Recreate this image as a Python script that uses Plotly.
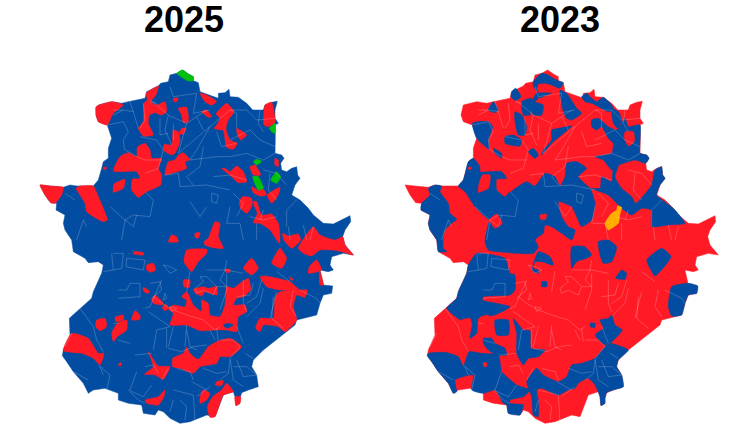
import plotly.graph_objects as go
from plotly.subplots import make_subplots

# coordinates, map units (3 per pixel)
# lists ending in _S are measured from y=540 (south half of the region)
YEARS = ["2025", "2023"]
PP = "#024da1"
PSOE = "#ff1a26"
OTHER = "#00bf0d"
LOCAL = "#ffae00"
BORDER = "rgba(255,255,255,0.2)"

OUTLINE = [(440,40),(458,30),(475,42),(490,50),(490,62),(505,68),(510,95),(540,105),(565,115),(565,100),(585,98),
           (597,88),(600,110),(625,112),(650,130),(668,150),(700,150),(705,135),(725,127),(742,124),(735,150),(735,175),
           (745,190),(735,195),(736,230),(735,280),(755,285),(762,295),(752,310),(755,330),(770,335),(785,325),(800,320),
           (803,345),(810,355),(795,375),(785,405),(810,420),(835,445),(850,465),(880,490),(910,492),(950,470),(960,467),
           (962,485),(945,510),(938,530),(945,555),(970,585),(940,580),(905,590),(900,615),(910,630),(895,635),(870,630),
           (880,675),(908,678),(905,700),(880,705),(870,730),(860,765),(800,780),(795,795),(770,815),(755,825),(700,870),
           (670,900),(665,920),(680,945),(685,980),(655,990),(635,998),(630,1015),(630,1030),(618,1037),(615,1010),
           (610,995),(580,1005),(555,1070),(530,1065),(480,1085),(450,1090),(420,1075),(400,1055),(385,1050),(375,1065),
           (340,1060),(335,1035),(295,1030),(265,1020),(265,1000),(225,985),(190,990),(175,1000),(160,970),(130,935),
           (110,905),(97,887),(100,870),(120,825),(118,775),(150,745),(185,715),(190,695),(215,640),(220,615),(205,605),
           (175,608),(165,595),(130,575),(125,540),(105,510),(100,490),(105,465),(78,450),(80,430),(62,428),(45,405),
           (30,375),(60,378),(100,382),(120,375),(140,378),(190,378),(205,360),(215,325),(220,305),(235,295),(235,265),
           (245,235),(232,195),(205,185),(198,165),(205,135),(245,125),(275,130),(295,125),(345,115),(350,95),(385,78),
           (392,70),(415,65),(420,45)]

RED_2025 = [
    [(198,140),(245,125),(280,135),(250,160),(232,195),(205,185),(198,165)],
    [(348,100),(385,78),(378,105),(362,125),(380,135),(405,125),(410,155),(395,165),(375,158),(358,165),(355,190),
     (370,225),(340,228),(325,205),(340,185),(342,130),(352,120)],
    [(430,115),(445,115),(440,125),(432,125)],
    [(445,145),(470,142),(475,185),(460,188),(455,165)],
    [(510,100),(530,105),(560,125),(545,135),(525,125)],
    [(515,155),(530,150),(545,170),(535,172)],
    [(572,145),(590,130),(612,155),(595,180),(588,205),(600,240),(622,250),(610,268),(590,262),(580,210),(572,210),
     (552,205),(560,195),(570,175),(558,162)],
    [(620,205),(650,225),(632,240),(622,225)],
    [(705,135),(725,127),(735,190),(715,200),(702,195)],
    [(455,205),(468,205),(460,222),(448,222)],
    [(430,210),(445,215),(450,245),(435,280),(425,285),(400,270),(403,253),(425,255)],
    [(322,262),(345,250),(360,270),(365,295),(395,295),(385,325),(395,345),(392,375),(350,395),(325,412),(305,390),
     (307,358),(330,355),(320,335),(255,335),(250,330),(270,290),(295,278),(320,290)],
    [(220,322),(230,322),(228,328),(220,328)],
    [(285,358),(280,385),(250,397),(252,372)],
    [(445,285),(460,278),(480,300),(465,305),(470,325),(425,340),(405,345),(415,305),(435,300)],
    [(575,325),(585,325),(600,335),(620,318),(640,335),(650,365),(625,368),(605,350)],
    [(660,320),(675,315),(692,345),(670,345)],
    [(735,295),(745,300),(745,320),(735,315)],
    [(665,380),(685,390),(700,388),(710,405),(690,408),(670,398)],
    [(712,405),(750,382),(745,405),(725,430)],
    [(638,410),(665,415),(665,440),(650,460),(632,445),(628,425)],
    [(668,425),(680,425),(695,465),(725,462),(745,490),(750,535),(748,550),(720,510),(690,490),(670,488),(682,460)],
    [(758,520),(775,528),(805,522),(812,540),(785,565),(762,540)],
    [(850,500),(870,525),(915,540),(938,530),(945,555),(970,585),(935,575),(905,570),(870,570),(845,588),(820,580),(805,565)],
    [(30,375),(60,378),(100,382),(95,405),(75,430),(62,428),(45,405)],
    [(138,385),(150,378),(190,378),(205,410),(232,480),(220,485),(170,455),(165,430),(150,405)],
    [(425,525),(440,530),(445,545),(415,545)],
    [(495,520),(510,518),(505,535),(495,532)],
    [(555,485),(570,490),(565,530),(580,565),(550,563),(525,555),(522,545),(535,535)],
]
RED_2025_S = [
    [(310,35),(340,38),(340,45),(312,42)],
    [(470,30),(530,28),(530,40),(505,65),(485,95),(462,65)],
    [(350,75),(370,70),(377,90),(362,97),(350,90)],
    [(665,55),(685,85),(665,105),(640,85)],
    [(750,25),(770,55),(755,85),(725,70)],
    [(585,88),(600,88),(600,97),(588,97)],
    [(860,60),(875,90),(835,100),(838,80)],
    [(690,110),(705,108),(780,125),(810,150),(832,150),(825,172),(800,165),(790,200),(800,240),(765,275),(745,260),
     (700,255),(690,275),(677,265),(690,235),(730,235),(735,175),(745,158),(770,150),(750,150),(710,140)],
    [(868,90),(875,110),(880,135),(870,135)],
    [(778,110),(790,118),(785,122)],
    [(460,120),(480,120),(478,142),(462,140)],
    [(490,148),(520,140),(535,145),(560,140),(562,165),(525,155),(515,168),(497,160)],
    [(340,142),(360,155),(350,160),(340,152)],
    [(655,115),(662,150),(640,170),(620,175),(610,195),(645,195),(650,215),(625,230),(620,275),(590,270),(555,270),
     (510,272),(470,255),(420,255),(430,220),(415,207),(430,195),(465,200),(470,180),(455,170),(470,155),(490,195),
     (515,215),(515,180),(535,190),(540,225),(570,230),(585,195),(590,140),(610,145),(630,130)],
    [(375,165),(400,190),(395,195),(370,190),(365,180)],
    [(405,192),(418,205),(405,212),(397,205)],
    [(200,240),(225,235),(230,260),(210,272),(197,260)],
    [(255,232),(280,225),(280,240),(258,245)],
    [(315,212),(330,225),(330,238),(305,240)],
    [(262,250),(290,240),(290,270),(262,290),(250,305),(245,280)],
    [(125,280),(175,295),(205,340),(222,340),(210,375),(190,355),(155,340),(100,332)],
    [(270,368),(275,370),(272,378),(265,375)],
    [(355,335),(385,378),(420,380),(400,418),(375,405),(343,403),(370,380)],
    [(428,355),(460,340),(470,322),(480,340),(505,358),(535,320),(560,305),(600,295),(635,320),(600,350),(570,350),
     (560,370),(510,380),(490,400),(450,385),(428,380)],
    [(405,450),(402,470),(385,495),(350,490),(345,480),(385,470)],
    [(520,450),(540,460),(530,480),(510,490),(510,470)],
    [(560,425),(580,422),(575,437),(555,435)],
    [(590,430),(610,455),(580,465),(555,530),(540,532),(532,500),(548,470),(575,450)],
    [(615,470),(632,470),(630,490),(618,497)],
]
BLUE_2025_S = [[(580,255),(595,250),(610,255),(590,265)]]
GREEN_2025 = [
    [(440,40),(458,30),(475,42),(490,50),(490,62),(472,62)],
    [(718,205),(735,190),(736,220),(725,215)],
    [(670,305),(680,298),(695,305),(680,315)],
    [(668,350),(685,350),(700,385),(685,390),(672,365)],
    [(722,360),(740,335),(752,350),(740,370)],
]

BLUE_2023 = [
    [(232,190),(250,185),(280,185),(293,200),(280,240),(283,268),(245,235)],
    [(280,150),(295,125),(310,150),(300,158)],
    [(350,95),(362,85),(378,110),(362,122),(348,110)],
    [(415,65),(440,40),(460,45),(475,55),(490,62),(505,68),(495,85),(470,75),(450,70),(430,72),(425,85),(430,100),(415,78)],
    [(425,100),(470,100),(455,105),(420,125),(445,135),(440,165),(415,165),(408,130)],
    [(380,125),(410,115),(405,165),(385,165)],
    [(495,90),(515,100),(545,145),(560,160),(530,180),(515,175),(505,155)],
    [(560,110),(575,100),(585,110),(605,125),(625,112),(650,135),(655,150),(640,155),(610,140),(590,130),(570,125)],
    [(650,145),(670,155),(680,180),(668,205),(655,190)],
    [(590,180),(610,175),(640,200),(665,210),(690,175),(700,200),(735,195),(735,280),(755,285),(762,295),(752,310),
     (720,300),(660,320),(650,330),(625,300),(600,290),(650,280),(655,250),(640,235),(620,200),(605,210),(590,200)],
    [(445,270),(470,240),(470,210),(490,205),(530,198),(470,250),(440,285)],
    [(330,230),(355,225),(380,240),(375,258),(345,255),(330,250)],
    [(360,155),(380,165),(395,200),(390,225),(370,225),(360,185)],
    [(295,265),(320,280),(320,295),(300,280)],
    [(400,275),(415,265),(430,285),(420,295)],
    [(205,360),(220,305),(235,295),(255,320),(255,335),(320,335),(335,355),(305,358),(305,390),(330,410),(345,395),
     (360,470),(325,465),(285,480),(240,440),(210,395),(190,378)],
    [(285,480),(325,465),(360,465),(345,400),(395,365),(420,378),(450,340),(480,350),(495,378),(510,350),(515,310),
     (545,305),(575,325),(550,350),(585,385),(590,395),(600,430),(590,480),(560,500),(545,470),(530,440),(490,425),
     (500,470),(520,500),(540,510),(530,540),(500,520),(470,500),(450,495),(445,520),(430,530),(420,540),(430,560),
     (415,580),(340,578),(280,570),(270,545)],
    [(585,385),(615,385),(620,350),(650,365),(655,320),(670,315),(660,350),(680,385),(710,410),(722,430),(770,375),
     (780,330),(800,320),(803,345),(810,355),(795,375),(785,405),(835,445),(870,490),(820,495),(770,500),(768,450),
     (740,445),(710,465),(680,445),(640,405),(600,390)],
    [(80,430),(105,405),(100,385),(120,375),(140,378),(135,395),(160,430),(165,460),(185,478),(170,490),(150,510),
     (145,530),(145,565),(155,575),(130,575),(125,540),(105,510),(100,490),(105,465),(78,450)],
]
BLUE_2023_S = [
    [(220,75),(245,40),(330,55),(345,100),(360,105),(360,150),(345,165),(265,170),(262,180),(345,200),(300,225),(250,235),
     (245,280),(225,295),(230,260),(222,235),(197,240),(155,205),(185,175),(190,155),(215,100)],
    [(300,240),(340,240),(340,285),(305,285)],
    [(265,295),(290,295),(300,310),(330,325),(335,345),(305,345),(280,330),(265,310)],
    [(355,235),(385,270),(405,272),(408,325),(450,330),(430,350),(400,355),(385,375),(365,340),(365,280)],
    [(97,347),(100,340),(150,337),(190,350),(205,378),(222,335),(260,340),(310,345),(320,395),(335,410),(365,435),
     (405,450),(385,470),(345,480),(345,490),(385,495),(375,525),(340,520),(335,495),(325,490),(300,450),(265,460),
     (230,450),(235,405),(180,420),(185,455),(175,460),(160,430),(130,395),(110,365)],
    [(425,385),(445,405),(490,425),(515,410),(530,375),(560,370),(600,355),(630,320),(645,310),(700,330),(670,360),
     (665,380),(680,405),(685,440),(655,450),(635,458),(630,475),(630,490),(618,497),(615,470),(600,435),(580,415),
     (550,430),(540,445),(520,450),(490,465),(440,445),(425,450),(430,480),(430,530),(415,525),(410,470),(395,425)],
    [(615,240),(640,235),(650,225),(660,255),(682,270),(645,310),(630,315),(600,285),(625,265)],
    [(585,250),(600,250),(600,262),(588,262)],
    [(755,60),(800,25),(828,50),(780,108),(765,85)],
    [(830,140),(880,130),(908,138),(905,160),(880,165),(870,190),(860,225),(830,228),(820,200)],
    [(680,90),(695,100),(690,118),(662,115)],
    [(530,20),(570,20),(590,45),(575,55),(545,65),(530,85)],
    [(610,5),(640,0),(665,20),(650,65),(625,70),(615,45)],
    [(430,35),(465,50),(475,75),(440,65),(420,65),(415,85),(430,90),(430,100),(412,92)],
    [(440,125),(455,125),(455,140),(440,140)],
]
RED_2023 = [
    [(690,215),(715,215),(718,245),(700,258),(688,235)],
    [(262,345),(285,345),(285,365),(280,385),(250,397),(252,372)],
    [(220,322),(230,322),(228,328),(220,328)],
    [(283,480),(305,462),(322,490),(300,505)],
    [(435,465),(455,462),(452,478),(437,478)],
    [(430,115),(445,115),(440,125),(432,125)],
]
RED_2023_S = [
    [(255,232),(280,225),(280,240),(258,245)],
    [(200,240),(225,235),(230,260),(210,272),(197,260)],
    [(560,425),(580,422),(575,437),(555,435)],
    [(265,368),(275,368),(275,380),(265,378)],
]
ORANGE_2023 = [[(630,490),(650,460),(665,450),(668,437),(680,442),(675,462),(670,490),(640,510)]]

BORDERS = [
    [(232,195),(280,185),(295,215),(280,240),(283,268)],[(280,150),(310,155),(300,125)],[(310,155),(325,205)],
    [(283,268),(320,290)],[(330,230),(380,240),(400,270)],[(362,120),(415,165),(405,210),(425,255)],
    [(415,165),(470,190),(530,150)],[(470,190),(445,280),(540,200),(600,150)],[(420,80),(430,110),(500,100)],
    [(500,100),(490,160),(540,150)],[(600,150),(650,150),(680,180),(735,175)],[(600,240),(660,210),(690,240),(735,260)],
    [(650,280),(700,300),(735,280)],[(540,200),(500,270),(480,300),(560,290),(600,290),(650,280)],
    [(520,260),(510,320),(470,350),(490,375)],[(405,345),(445,340),(450,380),(530,375),(600,390)],
    [(345,395),(370,420),(360,470),(310,465),(285,480),(310,500),(320,465)],[(240,440),(285,480),(275,540)],
    [(545,400),(565,405),(560,430),(545,425),(545,400)],[(480,425),(510,470),(530,440)],
    [(600,440),(590,490),(630,490),(640,540)],[(700,450),(690,480)],[(770,375),(740,340),(700,330)],
    [(800,420),(770,450),(770,500)],[(850,500),(840,540)],[(140,540),(160,480),(170,500)],[(105,400),(135,420)],
    [(250,150),(280,150),(250,165)],[(340,130),(345,180),(330,205)],[(360,125),(380,130)],[(390,175),(390,225),(415,220)],
    [(430,190),(430,240)],[(400,270),(385,325),(345,340)],[(320,290),(345,300),(395,300)],[(500,170),(520,210)],
    [(560,215),(575,260),(620,250)],[(620,205),(620,160),(600,150)],[(690,150),(685,190),(700,215)],
    [(550,350),(600,345),(650,360)],[(610,400),(640,430),(620,470)],[(660,470),(700,480),(740,470)],
    [(720,340),(715,390),(740,420)],[(820,495),(830,540)],[(775,500),(780,540)],[(680,490),(680,540)],
]
BORDERS_S = [
    [(250,40),(280,40),(275,85),(250,90),(245,40)],[(290,55),(345,60),(340,90),(288,80),(290,55)],[(220,95),(250,90)],
    [(265,150),(290,150),(300,130),(330,130),(330,170),(265,175)],[(400,75),(420,100),(440,90),(420,80),(400,75)],
    [(395,120),(375,165),(360,200),(345,205)],[(480,95),(470,155)],[(560,140),(590,140)],
    [(590,60),(585,90),(570,120),(590,140)],[(530,90),(590,90),(640,100)],[(695,120),(680,170),(650,190)],
    [(810,150),(860,175),(870,190)],[(740,155),(720,235)],[(355,215),(420,260),(380,270),(370,330)],[(410,265),(410,325)],
    [(470,255),(465,320)],[(560,265),(565,305)],[(630,320),(600,355),(610,420),(640,440)],[(645,340),(670,355)],
    [(205,375),(240,405),(230,450)],[(150,205),(190,260),(200,300),(220,335)],[(125,280),(105,320)],[(320,395),(300,450)],
    [(415,385),(395,420)],[(430,450),(490,465),(495,545)],[(365,435),(340,470),(295,450)],[(540,440),(500,470)],
    [(130,395),(175,420)],[(265,300),(300,310)],[(680,405),(640,410),(620,360)],
    [(470,225),(520,240),(555,270),(570,260)],[(430,260),(415,320)],[(470,270),(480,320),(500,330)],[(540,270),(555,300)],
    [(590,100),(590,150),(570,210)],[(640,120),(640,190),(650,215)],[(700,145),(690,190),(650,230)],
    [(730,170),(725,235),(760,265)],[(790,150),(780,200),(800,230)],[(360,130),(390,125),(395,150),(365,175)],
    [(370,170),(395,190),(430,210),(470,225)],
    [(510,110),(530,110),(560,140),(550,165),(520,150),(500,160),(495,145),(520,125),(510,110)],
    [(405,160),(410,175),(400,180),(405,160)],[(420,200),(440,205),(425,215),(420,200)],[(250,250),(265,250)],
    [(415,325),(455,335),(490,320),(530,315)],[(315,345),(365,340)],[(345,380),(370,375),(385,400)],
    [(440,385),(480,395),(490,420)],[(485,425),(530,450)],[(570,300),(610,300),(630,320)],[(640,310),(620,260)],
    [(740,95),(780,125)],[(600,360),(595,400),(570,420)],[(520,385),(560,400),(590,395)],[(610,380),(650,380),(680,405)],
    [(450,480),(470,500),(465,540)],[(430,480),(420,515)],[(300,455),(325,480),(345,490)],[(210,380),(220,405)],
    [(620,170),(660,165),(670,130)],
]

SOUTH = 540


def south(polys):
    return [[(x, y + SOUTH) for x, y in p] for p in polys]


def add_areas(fig, polys, color, col, smooth=True):
    for p in polys:
        xs = [c[0] for c in p] + [p[0][0]]
        ys = [c[1] for c in p] + [p[0][1]]
        line = dict(color=color, width=0.5)
        if smooth:
            line.update(shape="spline", smoothing=0.5)
        fig.add_trace(go.Scatter(x=xs, y=ys, mode="lines", fill="toself", fillcolor=color, line=line,
                                 hoverinfo="skip", showlegend=False),
                      row=1, col=col)


def add_borders(fig, col):
    xs, ys = [], []
    for p in BORDERS + south(BORDERS_S):
        xs += [c[0] for c in p] + [None]
        ys += [c[1] for c in p] + [None]
    fig.add_trace(go.Scatter(x=xs, y=ys, mode="lines", line=dict(color=BORDER, width=1),
                             hoverinfo="skip", showlegend=False), row=1, col=col)


fig = make_subplots(rows=1, cols=2)

# 2025
add_areas(fig, [OUTLINE], PP, 1, smooth=False)
add_areas(fig, RED_2025 + south(RED_2025_S), PSOE, 1)
add_areas(fig, south(BLUE_2025_S), PP, 1)
add_areas(fig, GREEN_2025, OTHER, 1)
add_borders(fig, 1)

# 2023
add_areas(fig, [OUTLINE], PSOE, 2, smooth=False)
add_areas(fig, BLUE_2023 + south(BLUE_2023_S), PP, 2)
add_areas(fig, RED_2023 + south(RED_2023_S), PSOE, 2)
add_areas(fig, ORANGE_2023, LOCAL, 2)
add_borders(fig, 2)

W, H = 754, 424
axis = dict(visible=False, fixedrange=True)
fig.update_xaxes(range=[0, 990], **axis)
fig.update_yaxes(range=[1092, 0], **axis)
fig.update_layout(
    width=W, height=H, margin=dict(l=0, r=0, t=0, b=0),
    paper_bgcolor="white", plot_bgcolor="white",
    xaxis=dict(domain=[30 / W, 360 / W]), xaxis2=dict(domain=[395 / W, 725 / W]),
    yaxis=dict(domain=[0, 364 / H]), yaxis2=dict(domain=[0, 364 / H]),
)
for year, cx in zip(YEARS, [184, 560]):
    fig.add_annotation(x=cx / W, y=1 - 20 / H, xref="paper", yref="paper", text="<b>%s</b>" % year,
                       showarrow=False, xanchor="center", yanchor="middle",
                       font=dict(family="Liberation Sans", size=36, color="black"))

# the page's default body margin would push the figure 8px down and right
fig.write_html("out.html", config=dict(displayModeBar=False),
               post_script="document.body.style.margin='0';")
